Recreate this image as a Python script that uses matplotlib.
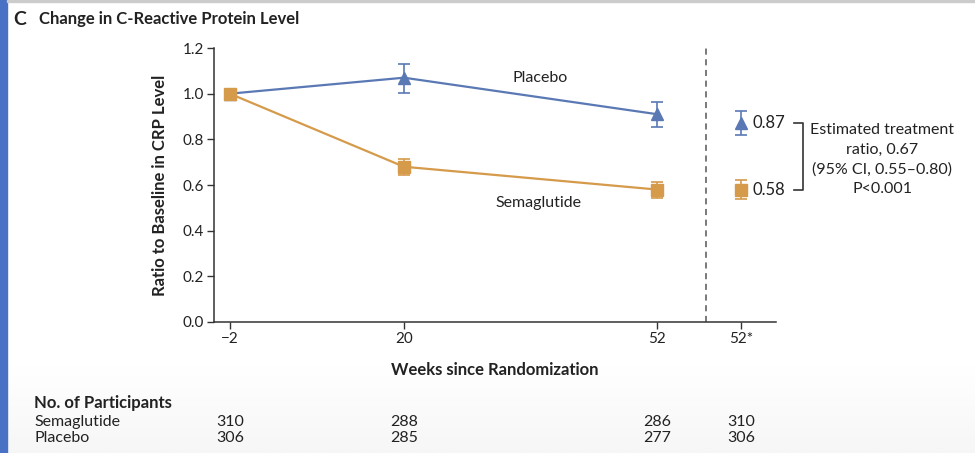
import numpy as np
import matplotlib.pyplot as plt
from matplotlib.patches import Rectangle

plt.rcParams['font.family'] = ['Lato', 'DejaVu Sans']

# weeks on the x axis; 52* is the final estimate shown past the dashed line
weeks = [-2, 20, 52]
week_star = 62.6
tick_labels = ['\u22122', '20', '52', '52*']

placebo = [1.0, 1.07, 0.91]
placebo_lo = [1.0, 1.005, 0.855]
placebo_hi = [1.0, 1.13, 0.965]
placebo_end, placebo_end_lo, placebo_end_hi = 0.87, 0.82, 0.925

sema = [1.0, 0.68, 0.58]
sema_lo = [0.99, 0.645, 0.545]
sema_hi = [1.01, 0.715, 0.615]
sema_end, sema_end_lo, sema_end_hi = 0.58, 0.54, 0.622

n_sema = [310, 288, 286, 310]
n_placebo = [306, 285, 277, 306]

blue = '#5a79b4'
orange = '#d59a4a'
txt = '#222222'

fig = plt.figure(figsize=(9.75, 4.53), dpi=100)

# faint grey shading behind the participants table
bg = fig.add_axes([0, 0, 1, 0.2], zorder=-10)
bg.imshow(np.linspace(0.0, 1.0, 80).reshape(-1, 1), cmap='Greys', vmin=0, vmax=14,
          aspect='auto', extent=[0, 1, 0, 1])
bg.axis('off')

ax = fig.add_axes([0.2195, 0.2892, 0.5764, 0.6048])


def err(vals, lo, hi):
    return [[v - l for v, l in zip(vals, lo)], [h - v for v, h in zip(vals, hi)]]


ax.errorbar(weeks, placebo, yerr=err(placebo, placebo_lo, placebo_hi), color=blue, marker='^',
            ms=9, lw=1.6, capsize=4, elinewidth=1.2, capthick=1.2, zorder=3)
ax.errorbar(weeks, sema, yerr=err(sema, sema_lo, sema_hi), color=orange, marker='s',
            ms=8, lw=1.6, capsize=4, elinewidth=1.2, capthick=1.2, zorder=4)
ax.errorbar([week_star], [placebo_end], yerr=[[placebo_end - placebo_end_lo], [placebo_end_hi - placebo_end]],
            color=blue, marker='^', ms=9, capsize=4, elinewidth=1.2, capthick=1.2)
ax.errorbar([week_star], [sema_end], yerr=[[sema_end - sema_end_lo], [sema_end_hi - sema_end]],
            color=orange, marker='s', ms=8, capsize=4, elinewidth=1.2, capthick=1.2)

ax.axvline(58.2, color='#555555', ls=(0, (4, 3)), lw=1.1)

ax.set_xlim(-4.0, 67.0)
ax.set_ylim(0, 1.2)
ax.set_xticks(weeks + [week_star])
ax.set_xticklabels(tick_labels)
ax.set_yticks([0, 0.2, 0.4, 0.6, 0.8, 1.0, 1.2])
ax.set_yticklabels(['0.0', '0.2', '0.4', '0.6', '0.8', '1.0', '1.2'])
ax.tick_params(direction='out', length=5, width=1, color='#333333', labelsize=11,
               labelcolor=txt, pad=2)
for s in ['top', 'right']:
    ax.spines[s].set_visible(False)
for s in ['left', 'bottom']:
    ax.spines[s].set_color('#333333')
    ax.spines[s].set_linewidth(1.1)

ax.set_ylabel('Ratio to Baseline in CRP Level', fontsize=12, fontweight='bold', color=txt, labelpad=11)
ax.set_xlabel('Weeks since Randomization', fontsize=12, fontweight='bold', color=txt, labelpad=12)

ax.text(37.2, 1.07, 'Placebo', fontsize=11.5, color=txt, ha='center', va='center')
ax.text(37.0, 0.522, 'Semaglutide', fontsize=11.5, color=txt, ha='center', va='center')

ax.text(64.0, placebo_end, f'{placebo_end:.2f}', fontsize=12, color=txt, va='center', ha='left')
ax.text(64.0, sema_end, f'{sema_end:.2f}', fontsize=12, color=txt, va='center', ha='left')
bx0, bx1 = 69.3, 70.4
ax.plot([bx0, bx1, bx1, bx0], [placebo_end, placebo_end, sema_end, sema_end],
        color='#333333', lw=1.2, clip_on=False)
ax.text(80.4, 0.712,
        'Estimated treatment\nratio, 0.67\n(95% CI, 0.55\u20130.80)\nP<0.001',
        fontsize=11.5, color=txt, ha='center', va='center', linespacing=1.5)

# title and frame decorations
fig.patches.append(Rectangle((0, 0), 0.0072, 1, transform=fig.transFigure, color='#4a72c4'))
fig.patches.append(Rectangle((0.0072, 0.995), 0.993, 0.005, transform=fig.transFigure, color='#cccccc'))
fig.text(0.0135, 0.958, 'C', fontsize=14, fontweight='bold', color=txt, va='center')
fig.text(0.040, 0.958, 'Change in C-Reactive Protein Level', fontsize=12, fontweight='bold',
         color=txt, va='center')

# participants at risk table
fig.text(0.035, 0.11, 'No. of Participants', fontsize=12, fontweight='bold', color=txt, va='center')
fig.text(0.035, 0.068, 'Semaglutide', fontsize=11.5, color=txt, va='center')
fig.text(0.035, 0.033, 'Placebo', fontsize=11.5, color=txt, va='center')
for xw, a, b in zip(weeks + [week_star], n_sema, n_placebo):
    xf = ax.transData.transform((xw, 0))[0]
    xf = fig.transFigure.inverted().transform((xf, 0))[0]
    fig.text(xf, 0.068, str(a), fontsize=11.5, color=txt, ha='center', va='center')
    fig.text(xf, 0.033, str(b), fontsize=11.5, color=txt, ha='center', va='center')

fig.savefig('out.png', dpi=100)
